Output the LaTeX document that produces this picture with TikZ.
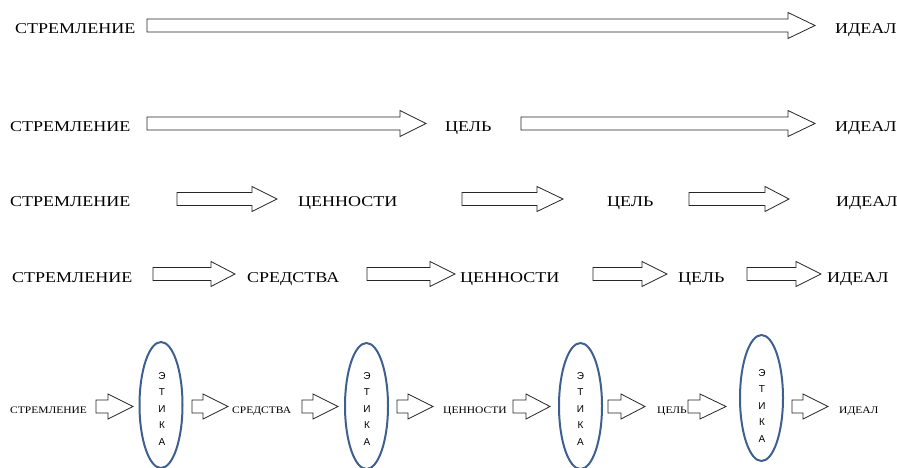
\documentclass[tikz,border=0pt]{standalone}
\usepackage{fontspec}
\setmainfont{Liberation Serif}
\newfontfamily\rowfont{Liberation Serif}[FakeStretch=1.2]
\newfontfamily\smallrowfont{Liberation Serif}[FakeStretch=1.15]
\newfontfamily\etfont{Liberation Sans}
\usetikzlibrary{shapes.geometric}
\definecolor{ethblue}{HTML}{3F5F8F}
\newcommand\blk[6]{\draw[blockarrow] (#1,#4-#5) -- (#2,#4-#5) -- (#2,#4-#6) -- (#3,#4) -- (#2,#4+#6) -- (#2,#4+#5) -- (#1,#4+#5) -- cycle;}
\begin{document}
\begin{tikzpicture}[x=1pt,y=-1pt,
  blockarrow/.style={draw=black!85,line width=0.8pt,fill=white,line join=miter},
  lbl/.style={anchor=base west,inner sep=0pt,font=\rowfont\fontsize{15}{15}\selectfont},
  slbl/.style={anchor=base west,inner sep=0pt,font=\smallrowfont\fontsize{10}{10}\selectfont},
  ethics/.style={ellipse,draw=ethblue,line width=2pt,minimum width=43pt,minimum height=126pt,inner sep=0pt},
  ethtext/.style={align=center,inner sep=0pt,font=\etfont\fontsize{10}{16.5}\selectfont}]
\useasboundingbox (0,0) rectangle (897,468);
% Row 1
\node[lbl] (r1a) at (15,34) {СТРЕМЛЕНИЕ};
\node[lbl] (r1b) at (835,34) {ИДЕАЛ};
\blk{147}{788}{815}{25.5}{6.5}{13}
% Row 2
\node[lbl] (r2a) at (10,132) {СТРЕМЛЕНИЕ};
\node[lbl] (r2b) at (445,132) {ЦЕЛЬ};
\node[lbl] (r2c) at (835,132) {ИДЕАЛ};
\blk{147}{400}{426}{123.5}{6.5}{13}
\blk{521}{788}{815}{123.5}{6.5}{13}
% Row 3
\node[lbl] (r3a) at (10,206) {СТРЕМЛЕНИЕ};
\node[lbl] (r3b) at (298,206) {ЦЕННОСТИ};
\node[lbl] (r3c) at (607,206) {ЦЕЛЬ};
\node[lbl] (r3d) at (836,206) {ИДЕАЛ};
\blk{177}{252}{277}{199}{6.5}{12.5}
\blk{462}{537}{563}{199}{6.5}{12.5}
\blk{689}{765}{789}{199}{6.5}{12.5}
% Row 4
\node[lbl] (r4a) at (12,282) {СТРЕМЛЕНИЕ};
\node[lbl] (r4b) at (247,282) {СРЕДСТВА};
\node[lbl] (r4c) at (460,282) {ЦЕННОСТИ};
\node[lbl] (r4d) at (678,282) {ЦЕЛЬ};
\node[lbl] (r4e) at (827,282) {ИДЕАЛ};
\blk{153}{211}{235}{274}{6.5}{12.5}
\blk{367}{430}{455}{274}{6.5}{12.5}
\blk{593}{642}{667}{274}{6.5}{12.5}
\blk{747}{796}{821}{274}{6.5}{12.5}
% Row 5
\node[slbl] (r5a) at (10,413) {СТРЕМЛЕНИЕ};
\node[slbl] (r5b) at (232,413) {СРЕДСТВА};
\node[slbl] (r5c) at (443,413) {ЦЕННОСТИ};
\node[slbl] (r5d) at (657,413) {ЦЕЛЬ};
\node[slbl] (r5e) at (839,413) {ИДЕАЛ};
\node[ethics] (e1) at (161,405) {};
\node[ethics] (e2) at (366.5,406) {};
\node[ethics] (e3) at (580.5,406) {};
\node[ethics] (e4) at (761.5,398) {};
\node[ethtext] (t1) at (162,409) {Э\\Т\\И\\К\\А};
\node[ethtext] (t2) at (367,409) {Э\\Т\\И\\К\\А};
\node[ethtext] (t3) at (580.5,409) {Э\\Т\\И\\К\\А};
\node[ethtext] (t4) at (762,406) {Э\\Т\\И\\К\\А};
\blk{96}{108}{133}{406.5}{6.5}{12.5}
\blk{192}{203}{228}{406.5}{6.5}{12.5}
\blk{302}{313}{338}{406.5}{6.5}{12.5}
\blk{397}{408}{433}{406.5}{6.5}{12.5}
\blk{513}{526}{550}{406.5}{6.5}{12.5}
\blk{608}{621}{645}{406.5}{6.5}{12.5}
\blk{688}{700}{726}{406.5}{6.5}{12.5}
\blk{792}{803}{828}{406.5}{6.5}{12.5}
\end{tikzpicture}
\end{document}
